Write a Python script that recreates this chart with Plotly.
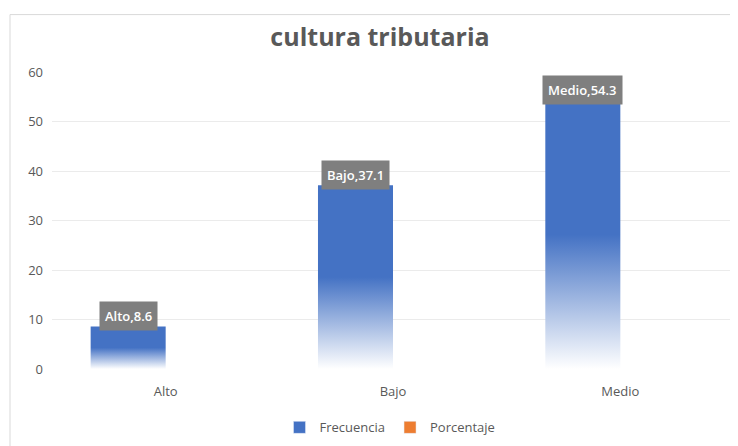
"""Gráfico de barras: cultura tributaria."""

import plotly.graph_objects as go

# datos
categorias = ["Alto", "Bajo", "Medio"]
frecuencia = [8.6, 37.1, 54.3]
porcentaje = [None, None, None]  # serie sin barras visibles, solo aparece en la leyenda

AZUL = "#4472C4"
NARANJA = "#ED7D31"
GRIS = "#595959"

# la página deja 8 px de margen en el body: la figura se corre 8 px
OFF = 8
W, H = 738 - OFF, 446 - OFF
PLOT_X0, PLOT_X1 = 52, 734   # px de ventana
PLOT_Y0, PLOT_Y1 = 72, 372   # px de ventana (arriba, abajo)
M_L, M_R = PLOT_X0 - OFF, W + OFF - PLOT_X1
M_T, M_B = PLOT_Y0 - OFF, H + OFF - PLOT_Y1
ANCHO = 0.33  # ancho de cada barra en unidades de categoría

plot_w = PLOT_X1 - PLOT_X0
plot_h = PLOT_Y1 - PLOT_Y0


def px_a_paper_x(px):
    return (px - PLOT_X0) / plot_w


def px_a_paper_y(py):
    return (PLOT_Y1 - py) / plot_h


fig = go.Figure()

# barras de frecuencia con degradado (sólido arriba, blanco abajo)
for i, v in enumerate(frecuencia):
    fig.add_trace(
        go.Scatter(
            x=[i - ANCHO, i, i, i - ANCHO, i - ANCHO],
            y=[0, 0, v, v, 0],
            mode="lines",
            fill="toself",
            fillgradient=dict(
                type="vertical",
                colorscale=[[0, "#FFFFFF"], [0.5, AZUL], [1, AZUL]],
            ),
            line=dict(width=0),
            showlegend=False,
            hoverinfo="skip",
        )
    )

# entradas de leyenda
fig.add_trace(
    go.Bar(x=[None], y=[None], name="Frecuencia", marker_color=AZUL, showlegend=True)
)
fig.add_trace(
    go.Bar(
        x=[i + ANCHO / 2 for i in range(len(categorias))],
        y=porcentaje,
        width=ANCHO,
        name="Porcentaje",
        marker_color=NARANJA,
        showlegend=True,
    )
)

# etiquetas de datos
for i, (cat, v) in enumerate(zip(categorias, frecuencia)):
    fig.add_annotation(
        x=i - ANCHO / 2,
        y=v,
        yshift=10,
        text=f"{cat},{v}",
        showarrow=False,
        bgcolor="#7F7F7F",
        borderpad=5,
        font=dict(color="white", size=13, family="Open Sans", weight=600),
    )

# borde del área del gráfico
fig.add_shape(
    type="rect",
    xref="paper",
    yref="paper",
    x0=px_a_paper_x(10),
    x1=px_a_paper_x(760),
    y0=px_a_paper_y(470),
    y1=px_a_paper_y(14),
    line=dict(color="#D9D9D9", width=1),
    layer="below",
)

fig.update_layout(
    width=W,
    height=H,
    margin=dict(l=M_L, r=M_R, t=M_T, b=M_B),
    title=dict(
        text="cultura tributaria",
        x=(380 - OFF) / W,
        xanchor="center",
        y=1 - (37 - OFF) / H,
        yanchor="middle",
        font=dict(family="Open Sans", size=25, color=GRIS, weight="bold"),
    ),
    xaxis=dict(
        range=[-0.5, len(categorias) - 0.5],
        tickvals=list(range(len(categorias))),
        ticktext=categorias,
        showgrid=False,
        zeroline=False,
        showline=False,
        ticks="",
        ticklabelstandoff=13,
        tickfont=dict(family="Open Sans", size=13, color=GRIS),
    ),
    yaxis=dict(
        range=[0, 60],
        dtick=10,
        gridcolor="#EBEBEB",
        zeroline=False,
        showline=False,
        ticks="",
        ticklabelstandoff=8,
        tickfont=dict(family="Open Sans", size=13, color=GRIS),
    ),
    legend=dict(
        orientation="h",
        x=px_a_paper_x(390),
        xanchor="center",
        y=px_a_paper_y(431),
        yanchor="middle",
        itemwidth=30,
        font=dict(family="Open Sans", size=13, color=GRIS),
    ),
    barmode="overlay",
    plot_bgcolor="white",
    paper_bgcolor="white",
)

fig.write_html("out.html")
